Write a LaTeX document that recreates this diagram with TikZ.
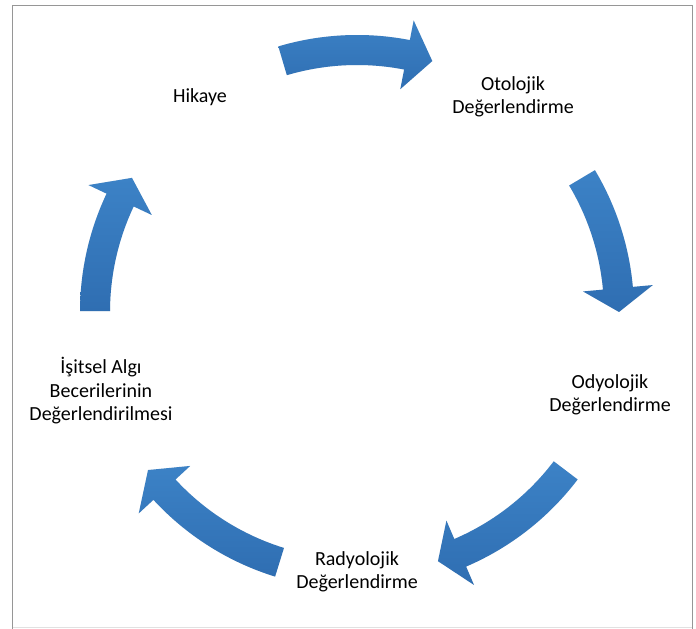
\documentclass[tikz,border=0pt]{standalone}
\usepackage{fontspec}
\setmainfont{Carlito}
\usetikzlibrary{calc}
\definecolor{arrowtop}{RGB}{60,130,198}
\definecolor{arrowbot}{RGB}{47,110,178}
\definecolor{framegray}{RGB}{150,150,150}
\definecolor{framelight}{RGB}{225,225,225}
\tikzset{
  lbl/.style={font=\fontsize{20}{23.5}\selectfont, align=center, inner sep=0pt, text=black},
  arrowsty/.style={top color=arrowtop, bottom color=arrowbot, draw=none},
  shadowsty/.style={fill=black, fill opacity=0.08, draw=none},
}
% #1 tail angle, #2 head-base angle, #3 tip angle
\newcommand\cycpath[3]{($(C)+(#1:277)$) arc[start angle=#1,end angle=#2,radius=277]
  -- ($(C)+(#2:297)$) -- ($(C)+(#3:262)$) -- ($(C)+(#2:227)$) -- ($(C)+(#2:247)$)
  arc[start angle=#2,end angle=#1,radius=247] -- cycle}
\newcommand\cycarrow[3]{%
  \begin{scope}[shift={(1.5,-3)}]\path[shadowsty] \cycpath{#1}{#2}{#3};\end{scope}
  \shade[arrowsty] \cycpath{#1}{#2}{#3};}
\begin{document}
\begin{tikzpicture}[x=1pt,y=1pt]
\useasboundingbox (0,0) rectangle (696,629);
\fill[white] (0,0) rectangle (696,629);
% frame
\draw[framelight, line width=0.8pt] (12.5,1.5) -- (692.5,1.5);
\draw[framegray, line width=1.3pt] (12.5,0) -- (12.5,623.5) -- (692.5,623.5) -- (692.5,0);
\coordinate (C) at (357,317);
% arrows
\cycarrow{106.5}{79}{73.3}
\cycarrow{30.8}{5.2}{0}
\cycarrow{-37.2}{-66.8}{-72}
\cycarrow{-107.2}{-137.3}{-142.9}
\cycarrow{179.8}{154.7}{149.2}
% labels
\node[lbl] (hikaye) at (200,532) {Hikaye};
\node[lbl] (otolojik) at (513,532) {Otolojik\\Değerlendirme};
\node[lbl] (odyolojik) at (610,234) {Odyolojik\\Değerlendirme};
\node[lbl] (radyolojik) at (357,57) {Radyolojik\\Değerlendirme};
\node[lbl] (isitsel) at (101,238) {İşitsel Algı\\Becerilerinin\\Değerlendirilmesi};
\end{tikzpicture}
\end{document}
